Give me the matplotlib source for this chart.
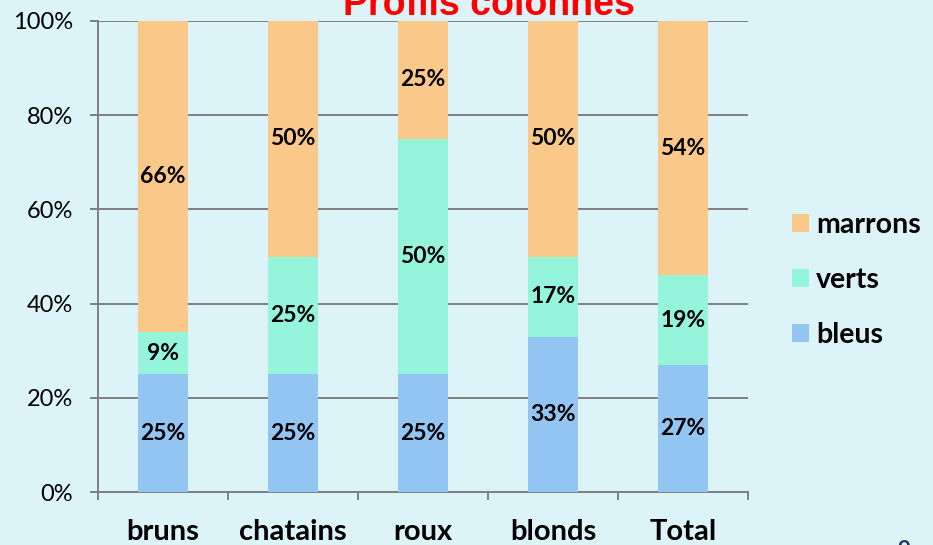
# Profils colonnes : diagramme en barres empilées (100 %)
import matplotlib.pyplot as plt
import numpy as np

categories = ["bruns", "chatains", "roux", "blonds", "Total"]
bleus = [25, 25, 25, 33, 27]
verts = [9, 25, 50, 17, 19]
marrons = [66, 50, 25, 50, 54]

series = [("bleus", bleus, "#93C5F3"),
          ("verts", verts, "#95F5DA"),
          ("marrons", marrons, "#FAC98A")]

fond = "#DCF4F8"
gris = "#7F7F7F"
police = "Lato"

fig = plt.figure(figsize=(9.33, 5.45), dpi=100, facecolor=fond)
ax = fig.add_axes([0.105, 0.0972, 0.6967, 0.8643], facecolor=fond)

x = np.arange(len(categories))
bas = np.zeros(len(categories))
for nom, vals, couleur in series:
    vals = np.array(vals, dtype=float)
    ax.bar(x, vals, 0.39, bottom=bas, color=couleur, label=nom, zorder=3)
    for xi, b, v in zip(x, bas, vals):
        ax.text(xi, b + v / 2, f"{v:.0f}%", ha="center", va="center",
                fontsize=16.5, fontweight="bold", family=police, zorder=4)
    bas += vals

ax.set_xlim(-0.5, len(categories) - 0.5)
ax.set_ylim(0, 100)
ax.set_yticks(np.arange(0, 101, 20))
ax.set_yticklabels([f"{t}%" for t in range(0, 101, 20)], fontsize=17, family=police)
ax.yaxis.grid(True, color=gris, linewidth=1.4, zorder=0)
ax.tick_params(axis="y", length=6, width=1.4, color=gris, pad=12)

ax.set_xticks(x)
ax.set_xticklabels(categories, fontsize=21, fontweight="bold", family=police)
ax.set_xticks(np.arange(-0.5, len(categories)), minor=True)
ax.tick_params(axis="x", which="major", length=0, pad=19.5)
ax.tick_params(axis="x", which="minor", length=6, width=1.4, color=gris)

for s in ["top", "right"]:
    ax.spines[s].set_visible(False)
for s in ["left", "bottom"]:
    ax.spines[s].set_color(gris)
    ax.spines[s].set_linewidth(1.4)

fig.text(0.524, 0.9725, "Profils colonnes", ha="center", va="baseline",
         color="red", fontsize=27, fontweight="bold", family="Liberation Sans")

poignees, noms = ax.get_legend_handles_labels()
fig.legend(poignees[::-1], noms[::-1], loc="center left",
           bbox_to_anchor=(0.821, 0.486), frameon=False,
           prop={"family": police, "weight": "bold", "size": 20.5},
           handlelength=0.6, handleheight=0.6, handletextpad=0.25,
           labelspacing=1.02)

fig.text(0.968, -0.01, "9", ha="center", va="center", color="#1F3864",
         fontsize=16, fontweight="bold", family=police)

fig.savefig("out.png", dpi=100, facecolor=fond)
